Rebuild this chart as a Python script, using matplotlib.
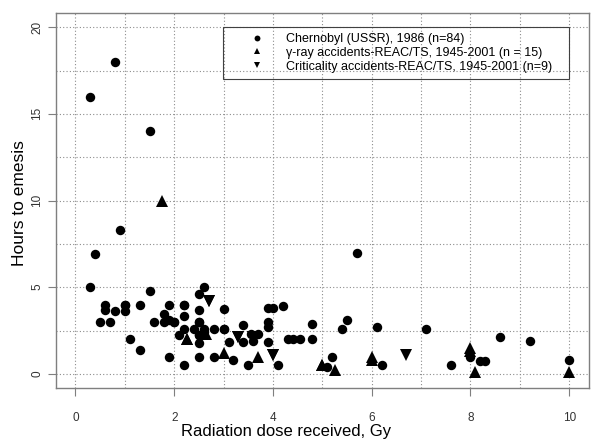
#!/usr/bin/env python3
"""Hours to emesis vs radiation dose, three accident series."""
import matplotlib

matplotlib.use("Agg")
import matplotlib.pyplot as plt
import numpy as np

plt.rcParams["font.family"] = ["Liberation Sans", "DejaVu Sans"]

# Chernobyl (USSR), 1986 -- dose (Gy), hours to emesis
chern_dose = [0.3, 0.8, 1.5, 0.9, 0.4, 0.3, 1.5, 5.7,
              0.6, 1.0, 1.3, 1.9, 2.2,
              2.6, 2.5, 3.0, 3.9, 4.0, 4.2,
              0.6, 0.8, 1.0, 2.5,
              2.2, 1.8,
              0.5, 0.7, 1.6, 1.8, 1.9, 2.0, 2.5, 3.9,
              2.2, 2.4, 2.6, 2.8, 3.0, 3.4, 3.9, 4.8, 5.4, 5.5, 6.1, 7.1,
              2.1, 2.5, 2.6, 3.55, 3.7,
              2.5, 3.1, 3.4, 3.6, 3.9, 4.3, 4.4, 4.55, 4.8, 1.1,
              1.3,
              1.9, 2.5, 2.8, 3.2, 5.2, 8.0, 8.2, 8.3, 10.0,
              2.2, 3.5, 4.1, 5.1, 6.2, 7.6,
              8.6, 9.2,
              2.5, 2.2, 1.0, 2.5, 3.0, 2.0]
chern_hours = [16.0, 18.0, 14.0, 8.3, 6.9, 5.0, 4.8, 7.0,
               4.0, 4.0, 4.0, 4.0, 4.0,
               5.0, 4.6, 3.75, 3.8, 3.8, 3.9,
               3.7, 3.6, 3.6, 3.7,
               3.35, 3.45,
               3.0, 3.0, 3.0, 3.0, 3.1, 3.0, 3.0, 3.0,
               2.6, 2.6, 2.6, 2.6, 2.6, 2.8, 2.7, 2.9, 2.6, 3.1, 2.7, 2.6,
               2.25, 2.25, 2.4, 2.3, 2.3,
               1.8, 1.85, 1.85, 1.9, 1.85, 2.0, 2.0, 2.0, 2.0, 2.0,
               1.4,
               1.0, 1.0, 1.0, 0.8, 1.0, 1.0, 0.75, 0.75, 0.8,
               0.5, 0.5, 0.5, 0.4, 0.5, 0.5,
               2.1, 1.9,
               3.0, 4.0, 4.0, 2.25, 2.6, 3.0]

# gamma-ray accidents, REAC/TS 1945-2001
gamma_dose = [1.75, 2.25, 2.65, 3.0, 3.7, 5.0, 5.25, 6.0, 6.0, 8.0, 8.1, 10.0,
              8.0, 2.25, 5.0]
gamma_hours = [10.0, 2.0, 2.3, 1.2, 1.0, 0.5, 0.2, 1.0, 0.8, 1.5, 0.1, 0.1,
               1.3, 2.0, 0.5]

# criticality accidents, REAC/TS 1945-2001
crit_dose = [2.7, 3.3, 3.6, 4.0, 6.7, 3.3, 3.6, 4.0, 2.7]
crit_hours = [4.2, 2.1, 2.1, 1.1, 1.1, 2.1, 2.1, 1.1, 4.2]

LABELS = ["Chernobyl (USSR), 1986 (n=84)",
          "\u03b3-ray accidents-REAC/TS, 1945-2001 (n = 15)",
          "Criticality accidents-REAC/TS, 1945-2001 (n=9)"]

GRAY = "#7f7f7f"


def main() -> int:
    fig = plt.figure(figsize=(6.0, 4.43), dpi=100)
    W, H = 600, 443
    ax = fig.add_axes([55.7 / W, 1 - 387.7 / H, (589 - 55.7) / W, (387.7 - 13.3) / H])

    ax.set_xlim(-0.4, 10.4)
    ax.set_ylim(-0.8, 20.8)

    # dotted grid: every 1 Gy and every 2.5 h (R-style abline grid)
    for gx in np.arange(0, 11, 1):
        ax.axvline(gx, color="#8c8c8c", linestyle=(0, (1, 2)), linewidth=0.8,
                   zorder=0)
    for gy in np.arange(0, 20.1, 2.5):
        ax.axhline(gy, color="#8c8c8c", linestyle=(0, (1, 2)), linewidth=0.8,
                   zorder=0)

    h1, = ax.plot(chern_dose, chern_hours, "o", color="black", ms=6.8,
                  markeredgewidth=0, label=LABELS[0])
    h2, = ax.plot(gamma_dose, gamma_hours, "^", color="black", ms=8,
                  markeredgewidth=0, label=LABELS[1])
    h3, = ax.plot(crit_dose, crit_hours, "v", color="black", ms=8,
                  markeredgewidth=0, label=LABELS[2])

    ax.set_xticks(np.arange(0, 11, 2))
    ax.set_yticks(np.arange(0, 21, 5))
    for s in ax.spines.values():
        s.set_color(GRAY)
        s.set_linewidth(1.0)
    ax.tick_params(length=5.8, width=0.8, color=GRAY,
                   labelsize=8.5, labelcolor="#333333")
    ax.tick_params(axis="x", pad=11.5)
    ax.tick_params(axis="y", pad=3)
    for lab in ax.get_yticklabels():
        lab.set_rotation(90)
        lab.set_va("center")

    ax.set_xlabel("Radiation dose received, Gy", fontsize=12, va="center")
    ax.xaxis.set_label_coords(0.432, -0.1157)
    ax.set_ylabel("Hours to emesis", fontsize=12.5, va="center")
    ax.yaxis.set_label_coords(-0.068, 0.493)

    leg = ax.legend(handles=[h1, h2, h3], loc="upper left",
                    bbox_to_anchor=(223.3 / W, 0.0, 346 / W, 1 - 26.7 / H),
                    bbox_transform=fig.transFigure, mode="expand",
                    borderaxespad=0, borderpad=0.5, handlelength=4.4,
                    handletextpad=0.15, labelspacing=0.15, markerscale=0.62,
                    fontsize=9, fancybox=False, framealpha=1)
    leg.get_frame().set_facecolor("none")
    leg.get_frame().set_edgecolor("#404040")
    leg.get_frame().set_linewidth(0.8)

    fig.savefig("out.png", dpi=100)
    plt.close(fig)
    return 0


if __name__ == "__main__":
    raise SystemExit(main())
